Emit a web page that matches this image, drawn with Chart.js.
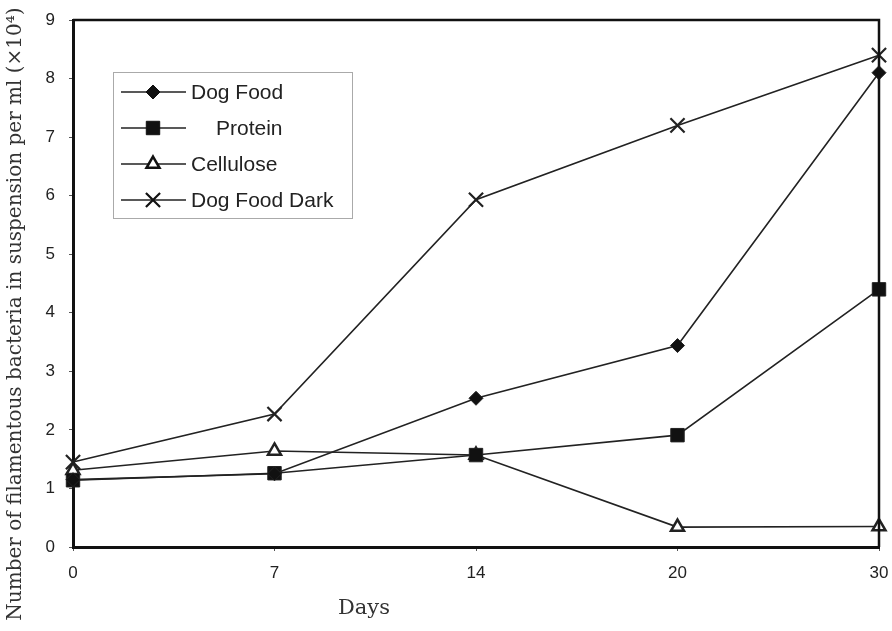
<!DOCTYPE html>
<html lang="en">
<head>
    <meta charset="UTF-8">
    <title>Filamentous bacteria</title>
    <script src="https://cdn.jsdelivr.net/npm/chart.js"></script>
    <style type="text/css">
        body{
            margin: 0;
            background: #fff;
        }
        .grafica{
            width: 892px;
            height: 631px;
        }
    </style>
</head>
<body>
    <div class="grafica">
        <canvas id="myChart" width="892" height="631"></canvas>
    </div>
    <script>
        // datos
        const days = ['0', '7', '14', '20', '30'];
        const dogFood = [1.15, 1.25, 2.54, 3.44, 8.1];
        const protein = [1.14, 1.26, 1.57, 1.91, 4.4];
        const cellulose = [1.31, 1.64, 1.57, 0.34, 0.35];
        const dogFoodDark = [1.45, 2.27, 5.93, 7.2, 8.4];
        const yTicks = [0, 1, 2, 3, 4, 5, 6, 7, 8, 9];

        const yTitle = 'Number of filamentous bacteria in suspension per ml (\u00d710\u2074)';
        const xTitle = 'Days';

        const lineColor = '#222';

        const data = {
            labels: days,
            datasets: [{
                label: 'Dog Food',
                data: dogFood,
                pointStyle: 'rectRot',
                pointRadius: 7,
                backgroundColor: '#111',
                borderColor: lineColor,
                legendIndent: 0
            },
            {
                label: 'Protein',
                data: protein,
                pointStyle: 'rect',
                pointRadius: 9.5,
                backgroundColor: '#111',
                borderColor: lineColor,
                legendIndent: 25
            },
            {
                label: 'Cellulose',
                data: cellulose,
                pointStyle: 'triangle',
                pointRadius: 7.5,
                pointBorderWidth: 2.5,
                backgroundColor: '#fff',
                borderColor: lineColor,
                legendIndent: 0
            },
            {
                label: 'Dog Food Dark',
                data: dogFoodDark,
                pointStyle: 'crossRot',
                pointRadius: 10,
                pointBorderWidth: 2.2,
                backgroundColor: '#111',
                borderColor: lineColor,
                legendIndent: 0
            }]
        };

        // marco superior/derecho, titulos y leyenda dentro del area
        const extras = {
            id: 'extras',
            afterDraw(chart) {
                const ctx = chart.ctx;
                const a = chart.chartArea;
                ctx.save();
                ctx.strokeStyle = '#111';
                ctx.lineWidth = 2.5;
                ctx.beginPath();
                ctx.moveTo(a.left, a.top);
                ctx.lineTo(a.right, a.top);
                ctx.lineTo(a.right, a.bottom);
                ctx.stroke();

                // titulo eje y
                ctx.fillStyle = '#333';
                ctx.font = '20px "DejaVu Serif", serif';
                ctx.textAlign = 'center';
                ctx.textBaseline = 'middle';
                ctx.translate(16, 314);
                ctx.rotate(-Math.PI / 2);
                ctx.fillText(yTitle, 0, 0);
                ctx.setTransform(1, 0, 0, 1, 0, 0);

                // titulo eje x
                ctx.font = '21px "DejaVu Serif", serif';
                ctx.textAlign = 'left';
                ctx.fillText(xTitle, 338, 609);

                // leyenda
                const bx = 113, by = 72, bw = 239, bh = 146;
                ctx.strokeStyle = '#aaa';
                ctx.lineWidth = 1;
                ctx.strokeRect(bx + 0.5, by + 0.5, bw, bh);
                ctx.font = '21px "Liberation Sans", Arial, sans-serif';
                chart.data.datasets.forEach(function (ds, i) {
                    const y = by + 20 + i * 36;
                    ctx.strokeStyle = lineColor;
                    ctx.lineWidth = 1.5;
                    ctx.beginPath();
                    ctx.moveTo(bx + 8, y);
                    ctx.lineTo(bx + 73, y);
                    ctx.stroke();
                    ctx.fillStyle = ds.backgroundColor;
                    ctx.strokeStyle = '#111';
                    ctx.lineWidth = ds.pointBorderWidth || 1;
                    Chart.helpers.drawPoint(ctx, {
                        pointStyle: ds.pointStyle,
                        radius: ds.pointRadius,
                        rotation: 0,
                        borderWidth: ds.pointBorderWidth || 1
                    }, bx + 40, y);
                    ctx.fillStyle = '#222';
                    ctx.fillText(ds.label, bx + 78 + ds.legendIndent, y + 1);
                });
                ctx.restore();
            }
        };

        const config = {
            type: 'line',
            data: data,
            options: {
                responsive: false,
                animation: false,
                layout: {
                    padding: { left: 0, right: 13, top: 20, bottom: 0 }
                },
                elements: {
                    line: { borderWidth: 1.6, tension: 0 },
                    point: { borderWidth: 1, borderColor: '#111' }
                },
                plugins: {
                    legend: { display: false },
                    tooltip: { enabled: false }
                },
                scales: {
                    x: {
                        type: 'category',
                        offset: false,
                        border: { display: true, color: '#111', width: 3 },
                        grid: { drawOnChartArea: false, drawTicks: true, tickLength: 4, color: '#555' },
                        ticks: {
                            color: '#222',
                            padding: 12,
                            maxRotation: 0,
                            font: { family: '"Liberation Sans", Arial, sans-serif', size: 17 }
                        },
                        afterFit(scale) {
                            scale.height = 84;
                            scale.paddingLeft = 0;
                            scale.paddingRight = 0;
                        }
                    },
                    y: {
                        min: 0,
                        max: 9,
                        afterBuildTicks(scale) {
                            scale.ticks = yTicks.map(v => ({ value: v }));
                        },
                        border: { display: true, color: '#111', width: 3 },
                        grid: { drawOnChartArea: false, drawTicks: true, tickLength: 4, color: '#555' },
                        ticks: {
                            color: '#222',
                            padding: 14,
                            font: { family: '"Liberation Sans", Arial, sans-serif', size: 17 }
                        },
                        afterFit(scale) {
                            scale.width = 73;
                            scale.paddingTop = 0;
                            scale.paddingBottom = 0;
                        }
                    }
                }
            },
            plugins: [extras]
        };
        const myChart = new Chart(
            document.getElementById('myChart'),
            config
        );
    </script>
</body>
</html>
